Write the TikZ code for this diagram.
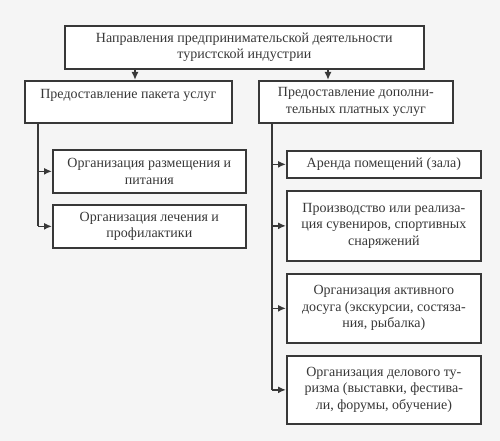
\documentclass[tikz,border=0pt]{standalone}
\usepackage{fontspec}
\setmainfont{Liberation Serif}
\usetikzlibrary{arrows.meta}
\begin{document}
\begin{tikzpicture}[x=1pt,y=-1pt,
  bx/.style={draw=black!78,line width=1.7pt,fill=white,align=center,font=\fontsize{14}{16.5}\selectfont,text=black!78,inner sep=0pt,anchor=north west},
  conn/.style={draw=black!78,line width=1.6pt},
  arr/.style={conn,-{Latex[length=8pt,width=7pt]}}]
\fill[black!4] (0,0) rectangle (500,441);
\useasboundingbox (0,0) rectangle (500,441);
\node[bx,minimum width=359pt,minimum height=43pt] (top) at (64,25) {Направления предпринимательской деятельности\\туристской индустрии};
\node[bx,minimum width=207pt,minimum height=42pt] (L) at (24,80) {Предоставление пакета услуг\\[-6pt]\strut};
\node[bx,minimum width=194pt,minimum height=42pt] (R) at (258,80) {Предоставление дополни-\\тельных платных услуг};
\node[bx,minimum width=193pt,minimum height=43pt] (L1) at (52,149) {Организация размещения и\\питания};
\node[bx,minimum width=193pt,minimum height=43pt] (L2) at (52,204) {Организация лечения и\\профилактики};
\node[bx,minimum width=194pt,minimum height=27pt] (R1) at (286,150) {Аренда помещений (зала)};
\node[bx,minimum width=194pt,minimum height=70pt] (R2) at (286,190) {Производство или реализа-\\ция сувениров, спортивных\\снаряжений};
\node[bx,minimum width=194pt,minimum height=69pt] (R3) at (286,273) {Организация активного\\досуга (экскурсии, состяза-\\ния, рыбалка)};
\node[bx,minimum width=194pt,minimum height=68pt] (R4) at (286,355) {Организация делового ту-\\ризма (выставки, фестива-\\ли, форумы, обучение)};
\coordinate (tl) at (135,0);
\coordinate (tr) at (328,0);
\draw[arr] (top.south -| tl) -- (L.north -| tl);
\draw[arr] (top.south -| tr) -- (R.north -| tr);
\coordinate (lx) at (38,0);
\coordinate (rx) at (272,0);
\draw[conn] (L.south -| lx) -- (lx |- L2.west);
\draw[arr] (lx |- L1.west) -- (L1.west);
\draw[arr] (lx |- L2.west) -- (L2.west);
\draw[conn] (R.south -| rx) -- (rx |- R4.west);
\draw[arr] (rx |- R1.west) -- (R1.west);
\draw[arr] (rx |- R2.west) -- (R2.west);
\draw[arr] (rx |- R3.west) -- (R3.west);
\draw[arr] (rx |- R4.west) -- (R4.west);
\end{tikzpicture}
\end{document}
